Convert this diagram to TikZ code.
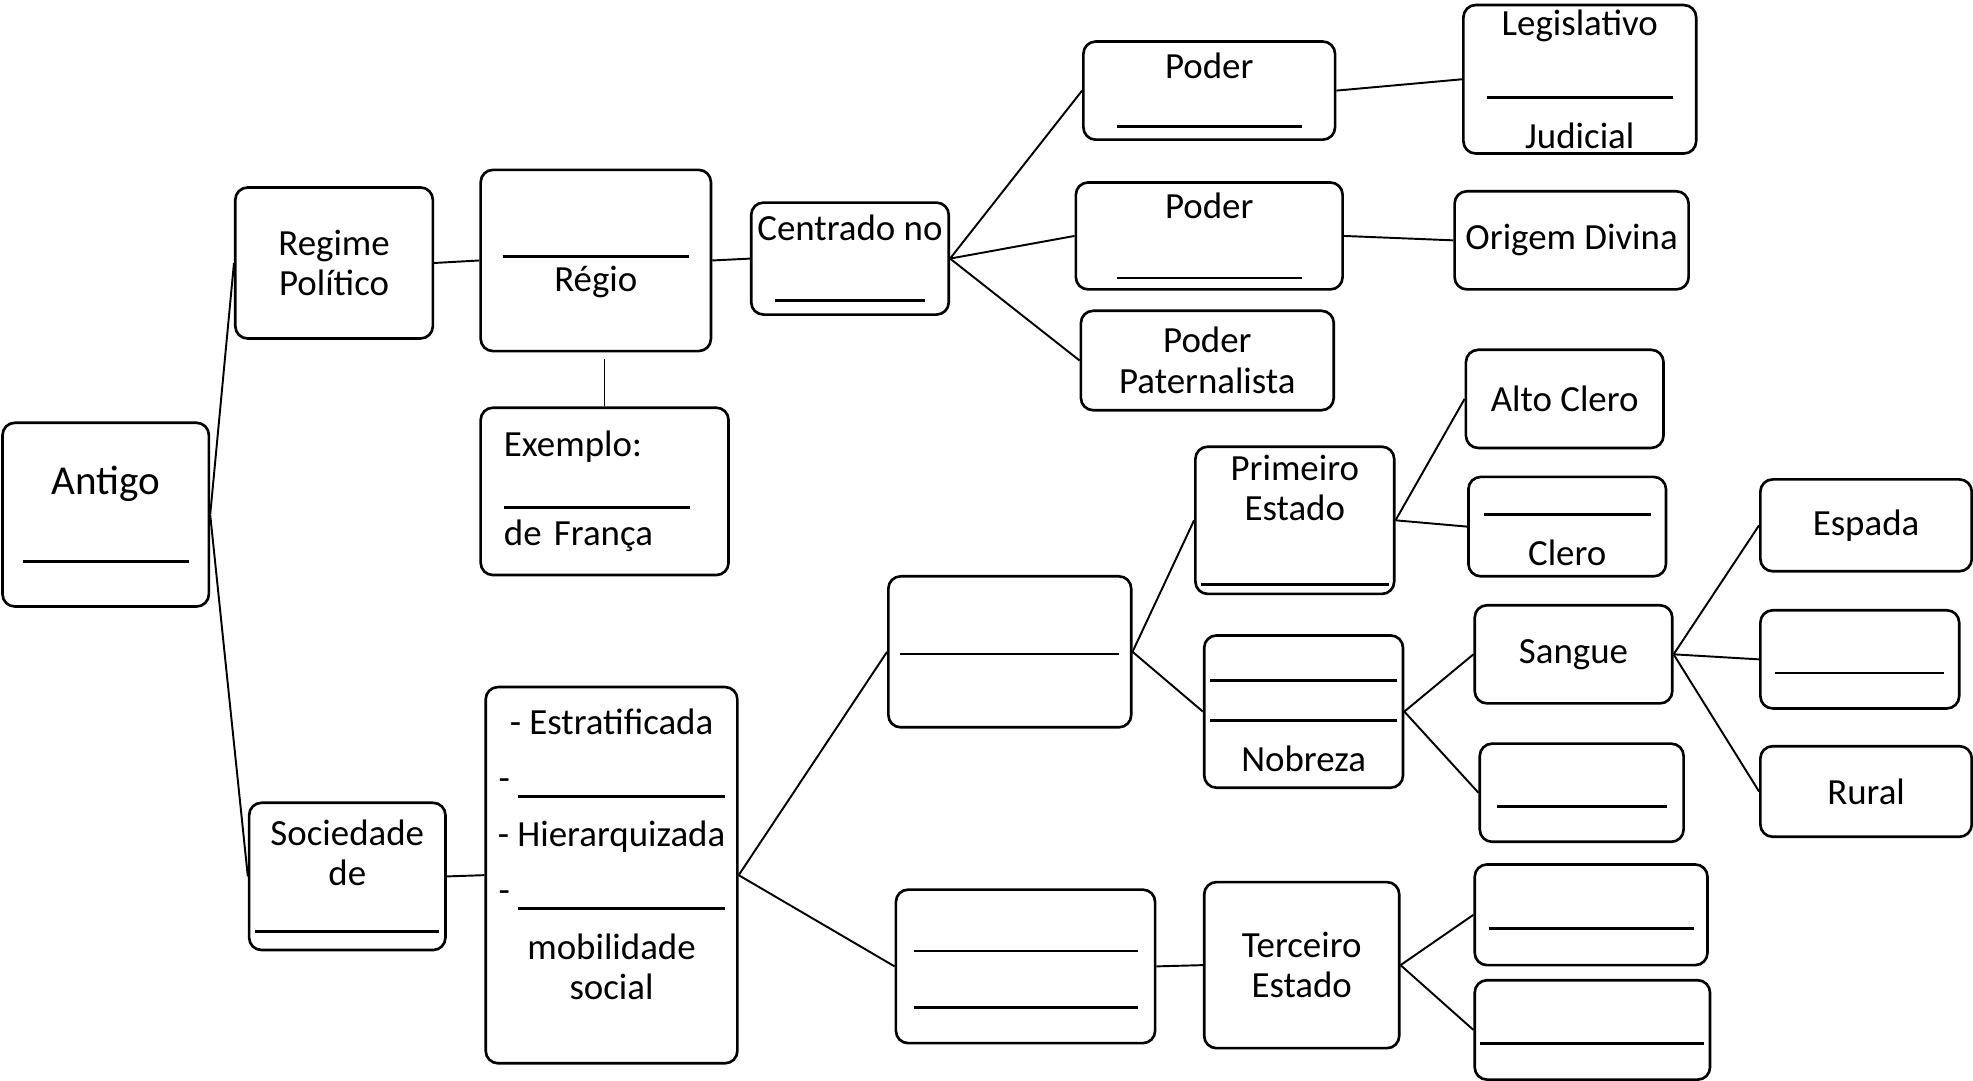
\documentclass[tikz,border=0pt]{standalone}
\usepackage{fontspec}
\setmainfont{Carlito}
\usetikzlibrary{positioning}

\newdimen\pxlen \pxlen=0.012583cm
\newcommand\fillin[1]{\rule[-2pt]{#1\pxlen}{.8pt}}
\newcommand\padtop[1]{\rule{0pt}{#1}}

\begin{document}
\begin{tikzpicture}[
  x=0.012583cm, y=-0.012583cm,
  font=\fontsize{10.5}{11.5}\selectfont,
  box/.style={draw, rounded corners=3.5pt, line width=.75pt, align=center,
              inner sep=0pt},
  sz/.style 2 args={minimum width=#1*0.012583cm, minimum height=#2*0.012583cm},
  link/.style={line width=.55pt},
]
\useasboundingbox (0,0) rectangle (1568,859);

% regime politico
\node[box, sz={164}{146}] (antigo) at (84,409)
 {{\fontsize{11.7}{14}\selectfont Antigo}\\[6pt]\fillin{132}};
\node[box, sz={157}{120}] (regime) at (265.5,209) {Regime\\Político};
\node[box, sz={183}{144}] (regio) at (473.5,207)
 {\padtop{8pt}\fillin{148}\\Régio};
\node[box, sz={197}{133}, text width=160*0.012583cm, align=left] (exemplo)
 at (480.5,390.5) {Exemplo:\\[1.5pt]\fillin{148}\\[1pt]de França};
\node[box, sz={157}{89}] (centro) at (675.5,205.5)
 {Centrado no\\[4pt]\fillin{119}};
\node[box, sz={200}{78}] (poderA) at (961,72) {Poder\\[.5pt]\fillin{147}};
\node[box, sz={212}{85}] (poderB) at (961,187.5) {Poder\\[4pt]\fillin{147}};
\node[box, sz={201}{79}] (poderC) at (959.5,286.5) {Poder\\Paternalista};
\node[box, sz={185}{118}] (legis) at (1255.5,63)
 {Legislativo\\[4.5pt]\fillin{148}\\[4.5pt]Judicial};
\node[box, sz={186}{78}] (origem) at (1249,191) {Origem Divina};

% sociedade
\node[box, sz={156}{117}] (socie) at (276,696.5)
 {Sociedade\\de\\\fillin{146}};
\node[box, sz={200}{299}, text depth=12pt] (carac) at (486,695.5)
 {- Estratificada\\[4.5pt]- \fillin{164}\\[4.5pt]- Hierarquizada\\[4.5pt]%
  - \fillin{164}\\[4.5pt]mobilidade\\social};
\node[box, sz={193}{120}] (ordens) at (802.5,518) {\fillin{174}};
\node[box, sz={206}{122}] (povo) at (815,768)
 {\padtop{6pt}\fillin{178}\\[4.5pt]\fillin{178}};
\node[box, sz={158}{117}] (clero) at (1029,413.5)
 {Primeiro\\Estado\\[5pt]\fillin{149}};
\node[box, sz={158}{121}] (nobreza) at (1036,565.5)
 {\padtop{6.5pt}\fillin{148}\\\fillin{148}\\[4.5pt]Nobreza};
\node[box, sz={155}{132}] (terceiro) at (1034.5,767) {Terceiro\\Estado};
\node[box, sz={157}{78}] (alto) at (1243.5,317) {Alto Clero};
\node[box, sz={157}{79}] (baixo) at (1245.5,418.5)
 {\padtop{6pt}\fillin{133}\\[4.5pt]Clero};
\node[box, sz={157}{78}] (sangue) at (1250.5,520) {Sangue};
\node[box, sz={162}{78}] (nobB) at (1257,630) {\strut\fillin{135}};
\node[box, sz={168}{73}] (espada) at (1483,417.5) {Espada};
\node[box, sz={158}{78}] (nobC) at (1478,524) {\strut\fillin{134}};
\node[box, sz={168}{72}] (rural) at (1483,629) {Rural};
\node[box, sz={185}{80}] (terA) at (1264.5,727) {\strut\fillin{163}};
\node[box, sz={187}{79}] (terB) at (1265.5,818.5) {\strut\fillin{178}};

% ligacoes
\draw[link] (antigo.east) -- (regime.west);
\draw[link] (antigo.east) -- (socie.west);
\draw[link] (regime.east) -- (regio.west);
\draw[link] (regio.east) -- (centro.west);
\draw[line width=.4pt] (exemplo.north)
 -- ([yshift=-5*0.012583cm]exemplo.north |- regio.south);
\foreach \t in {poderA,poderB,poderC}
  \draw[link] (centro.east) -- (\t.west);
\draw[link] (poderA.east) -- (legis.west);
\draw[link] (poderB.east) -- (origem.west);
\draw[link] (socie.east) -- (carac.west);
\draw[link] (carac.east) -- (ordens.west);
\draw[link] (carac.east) -- (povo.west);
\draw[link] (ordens.east) -- (clero.west);
\draw[link] (ordens.east) -- (nobreza.west);
\draw[link] (clero.east) -- (alto.west);
\draw[link] (clero.east) -- (baixo.west);
\draw[link] (nobreza.east) -- (sangue.west);
\draw[link] (nobreza.east) -- (nobB.west);
\foreach \t in {espada,nobC,rural}
  \draw[link] (sangue.east) -- (\t.west);
\draw[link] (povo.east) -- (terceiro.west);
\draw[link] (terceiro.east) -- (terA.west);
\draw[link] (terceiro.east) -- (terB.west);
\end{tikzpicture}
\end{document}
